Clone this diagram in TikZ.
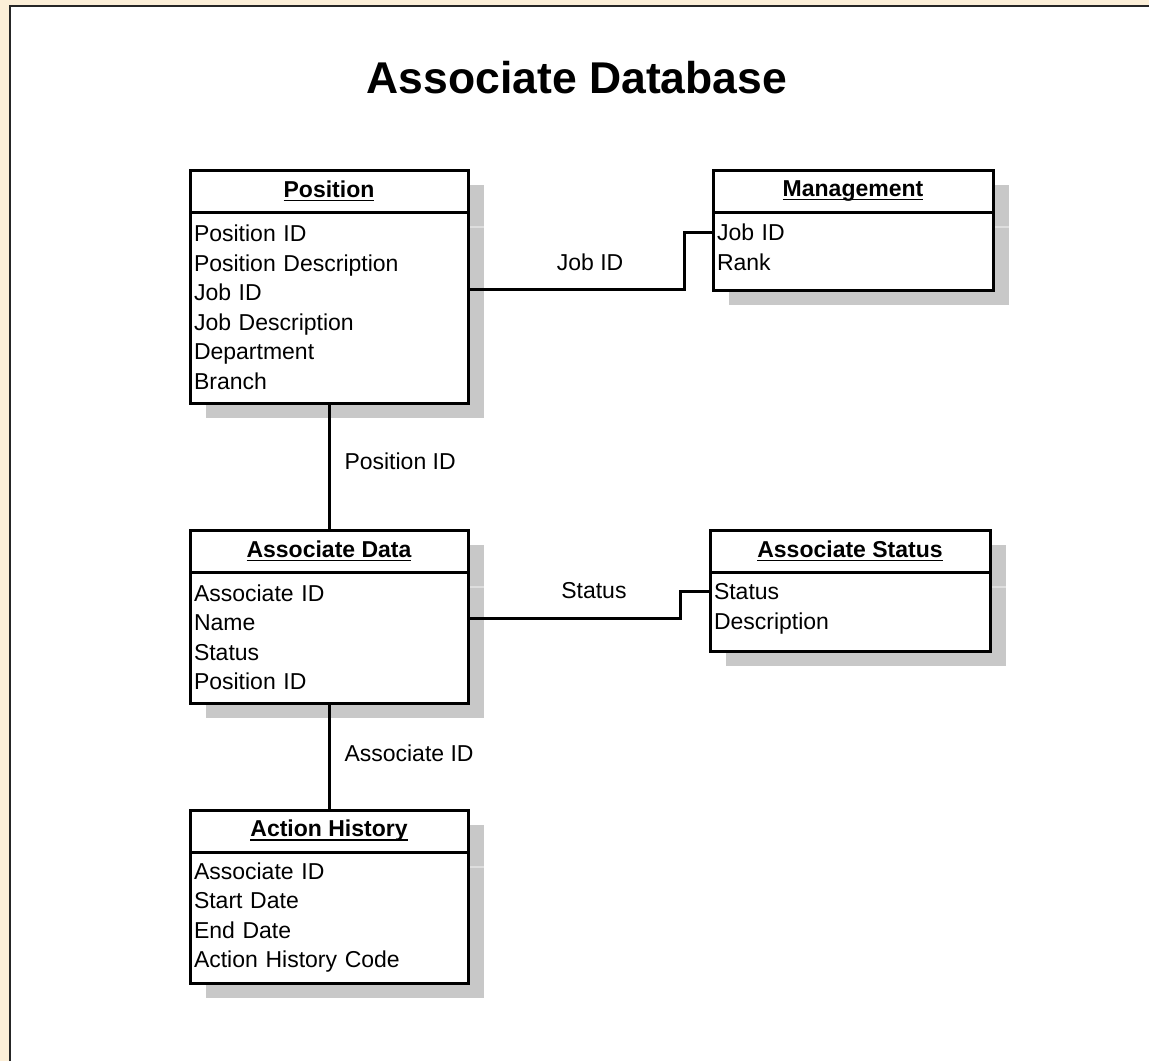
\documentclass[tikz,border=0pt]{standalone}
\usepackage{fontspec}
\setmainfont{Liberation Sans}
\usetikzlibrary{positioning, backgrounds}
\definecolor{pagebg}{RGB}{252,239,216}
\definecolor{shadowgray}{RGB}{200,200,200}
\definecolor{shadowline}{RGB}{222,222,222}
\newcommand\tblname[1]{\setbox0\hbox{#1}\rlap{\rule[-4pt]{\wd0}{1.6pt}}\box0}
\tikzset{
  tblhead/.style={draw, line width=3pt, fill=white, minimum height=42pt, inner sep=0pt, outer sep=0pt, font=\fontsize{23}{28}\selectfont\bfseries},
  tblbody/.style={draw, line width=3pt, fill=white, inner xsep=4pt, inner ysep=0pt, outer sep=0pt, align=left, text width=#1, font=\fontsize{23}{29.5}\selectfont},
  link/.style={line width=3pt},
  lbl/.style={font=\fontsize{23}{28}\selectfont, inner sep=3pt}
}
\begin{document}
\begin{tikzpicture}[x=1pt, y=-1pt]
		\useasboundingbox (0,0) rectangle (1149,1061);
		\begin{pgfonlayer}{background}
		\fill[pagebg] (0,0) rectangle (1149,1061);
		\fill[white] (10,6) rectangle (1149,1061);
		\draw[line width=2.4pt, black!85] (10,1061) -- (10,6) -- (1149,6);
		\end{pgfonlayer}
		\node[font=\fontsize{44.5}{50}\selectfont\bfseries] (title) at (577,78) {Associate Database};
		% tables
		\node[tblhead, minimum width=278pt] (pos) at (329,191) {\tblname{Position}};
		\node[tblbody=270pt, minimum height=191pt, below=0pt of pos] (pos-b) {Position ID\\Position Description\\Job ID\\Job Description\\Department\\Branch};
		\node[tblhead, minimum width=280pt] (mgt) at (853,191) {\tblname{Management}};
		\node[tblbody=272pt, minimum height=78pt, text depth=37.5pt, below=0pt of mgt] (mgt-b) {Job ID\\Rank};
		\node[tblhead, minimum width=278pt] (adat) at (329,551) {\tblname{Associate Data}};
		\node[tblbody=270pt, minimum height=131pt, below=0pt of adat] (adat-b) {Associate ID\\Name\\Status\\Position ID};
		\node[tblhead, minimum width=280pt] (asta) at (850,551) {\tblname{Associate Status}};
		\node[tblbody=272pt, minimum height=79pt, text depth=40pt, below=0pt of asta] (asta-b) {Status\\Description};
		\node[tblhead, minimum width=278pt] (ahis) at (329,831) {\tblname{Action History}};
		\node[tblbody=270pt, minimum height=131pt, below=0pt of ahis] (ahis-b) {Associate ID\\Start Date\\End Date\\Action History Code};
		% shadows
		\begin{pgfonlayer}{background}
		\foreach \t in {pos, mgt, adat, asta, ahis} {
			\fill[shadowgray] ([shift={(16,15)}]\t.north west) rectangle ([shift={(16,15)}]\t-b.south east);
			\draw[shadowline, line width=2pt] ([shift={(16,15)}]\t.south west) -- ([shift={(16,15)}]\t.south east);
		}
		\end{pgfonlayer}
		% links
		\draw[link] ([yshift=18.5pt]pos-b.east) -- ++(216,0) node[pos=.565, yshift=27pt, lbl]{Job ID} |- ([yshift=19pt]mgt-b.west);
		\draw[link] (pos-b.south) -- node[pos=.46, right=11pt, lbl]{Position ID} (adat.north);
		\draw[link] ([yshift=19.5pt]adat-b.east) -- ++(212,0) node[pos=.594, yshift=27pt, lbl]{Status} |- ([yshift=20.5pt]asta-b.west);
		\draw[link] (adat-b.south) -- node[pos=.47, right=11pt, lbl]{Associate ID} (ahis.north);
\end{tikzpicture}
\end{document}
